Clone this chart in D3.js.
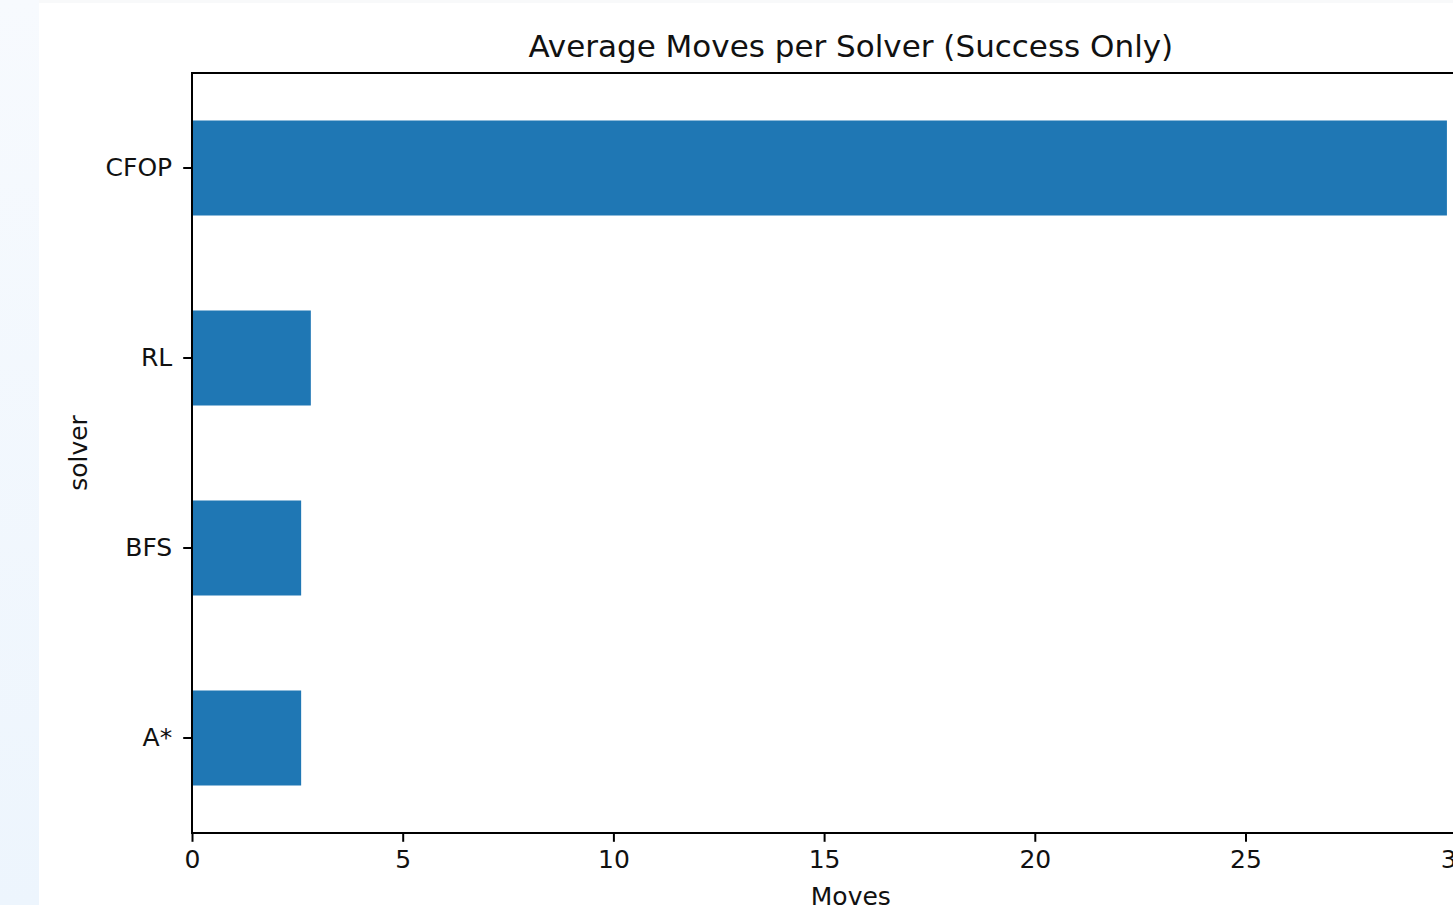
<!DOCTYPE html>
<html><head><meta charset="utf-8">
<script src="https://cdn.jsdelivr.net/npm/d3@7"></script>
<style>html,body{margin:0;padding:0;background:#fff;overflow:hidden}</style>
</head><body>
<svg id="c" width="1453" height="905"></svg>
<script>
const solvers = ["A*", "BFS", "RL", "CFOP"];
const avgMoves = [2.59, 2.59, 2.82, 29.78];
const xTicks = [0, 5, 10, 15, 20, 25, 30];
const titleText = "Average Moves per Solver (Success Only)";
const xLabel = "Moves";
const yLabel = "solver";

(function(){
const svg = d3.select("#c");
const font = "DejaVu Sans, sans-serif";
const defs = svg.append("defs");
const g = defs.append("linearGradient").attr("id","strip").attr("x1",0).attr("y1",0).attr("x2",0).attr("y2",1);
g.append("stop").attr("offset","0%").attr("stop-color","#f7fafe");
g.append("stop").attr("offset","100%").attr("stop-color","#edf5fd");
svg.append("rect").attr("x",0).attr("y",0).attr("width",39).attr("height",905).attr("fill","url(#strip)");
svg.append("rect").attr("x",39).attr("y",0).attr("width",1414).attr("height",3).attr("fill","#f8f9fa");

const mLeft = 192, mTop = 73, mBottom = 833;
const xmax = d3.max(avgMoves) * 1.05;
const x = d3.scaleLinear().domain([0, xmax]).range([mLeft, mLeft + xmax * 42.14]);
const mRight = x(xmax);
const y = d3.scaleBand().domain(solvers).range([mBottom, mTop]).paddingInner(0.5).paddingOuter(0.25);

svg.append("g").selectAll("rect").data(solvers).join("rect")
  .attr("x", x(0)).attr("y", d => y(d))
  .attr("width", (d,i) => x(avgMoves[i]) - x(0))
  .attr("height", y.bandwidth())
  .attr("fill", "#1f77b4");

svg.append("rect").attr("x", mLeft).attr("y", mTop).attr("width", mRight - mLeft).attr("height", mBottom - mTop)
  .attr("fill","none").attr("stroke","#000").attr("stroke-width",2);

const xa = svg.append("g").attr("transform", `translate(0,${mBottom})`)
  .call(d3.axisBottom(x).tickValues(xTicks).tickSize(8.8).tickPadding(8).tickFormat(d3.format("d")));
const ya = svg.append("g").attr("transform", `translate(${mLeft},0)`)
  .call(d3.axisLeft(y).tickSize(8.8).tickPadding(11));
[xa, ya].forEach(a => {
  a.select(".domain").remove();
  a.selectAll("line").attr("stroke","#000").attr("stroke-width",2);
  a.selectAll("text").attr("font-family", font).attr("font-size", 25).attr("fill","#111");
});

svg.append("text").attr("x", (mLeft + mRight)/2).attr("y", 57).attr("text-anchor","middle")
  .attr("font-family", font).attr("font-size", 31).attr("fill","#111").text(titleText);
svg.append("text").attr("x", (mLeft + mRight)/2).attr("y", 905).attr("text-anchor","middle")
  .attr("font-family", font).attr("font-size", 25).attr("fill","#111").text(xLabel);
svg.append("text").attr("transform", `translate(87,${(mTop+mBottom)/2}) rotate(-90)`).attr("text-anchor","middle")
  .attr("font-family", font).attr("font-size", 25).attr("fill","#111").text(yLabel);
})();
</script>
</body></html>
